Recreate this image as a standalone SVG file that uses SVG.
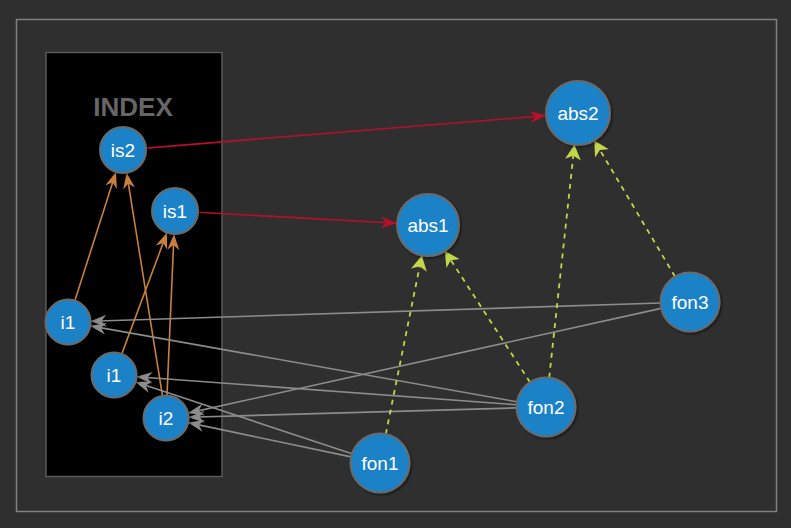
<svg xmlns="http://www.w3.org/2000/svg" width="791" height="528" viewBox="0 0 791 528">
<style>
.node circle{fill:#1a82c8;stroke:#6a6a6a;stroke-width:2}
.node text{fill:#fff;font-family:"Liberation Sans",Arial,sans-serif;font-size:19px;text-anchor:middle}
.red{stroke:#b8102a;stroke-width:1.6;fill:none;marker-end:url(#ar)}
.org{stroke:#c8803f;stroke-width:1.6;fill:none;marker-end:url(#ao)}
.gry{stroke:#8c8c8c;stroke-width:1.6;fill:none;marker-end:url(#ag)}
.grn{stroke:#c2d64a;stroke-width:1.8;fill:none;stroke-dasharray:5,5;marker-end:url(#an)}
</style>
<defs>
<marker id="ar" viewBox="0 0 16 12" refX="16" refY="6" markerWidth="16" markerHeight="12" markerUnits="userSpaceOnUse" orient="auto"><path d="M0,0 L16,6 L0,12 L5,6 z" fill="#b8102a"/></marker>
<marker id="ao" viewBox="0 0 16 12" refX="16" refY="6" markerWidth="16" markerHeight="12" markerUnits="userSpaceOnUse" orient="auto"><path d="M0,0 L16,6 L0,12 L5,6 z" fill="#c8803f"/></marker>
<marker id="ag" viewBox="0 0 16 12" refX="16" refY="6" markerWidth="16" markerHeight="12" markerUnits="userSpaceOnUse" orient="auto"><path d="M0,0 L16,6 L0,12 L5,6 z" fill="#8c8c8c"/></marker>
<marker id="an" viewBox="0 0 15 16" refX="15" refY="8" markerWidth="15" markerHeight="16" markerUnits="userSpaceOnUse" orient="auto"><path d="M0,0 L15,8 L0,16 L4,8 z" fill="#c2d64a"/></marker>
<filter id="sh" x="-20%" y="-20%" width="150%" height="150%"><feDropShadow dx="1.5" dy="1.5" stdDeviation="1.2" flood-color="#000" flood-opacity="0.5"/></filter>
</defs>
<rect x="0" y="0" width="791" height="528" fill="#2f2f2f"/>
<rect x="16.5" y="19.5" width="760" height="492" fill="none" stroke="#808080" stroke-width="1.5"/>
<g id="index-group">
<rect x="46" y="52.5" width="176" height="424" fill="#000" stroke="#5a5a5a" stroke-width="1.5"/>
<text x="133" y="116" font-family="'Liberation Sans',Arial,sans-serif" font-size="26" font-weight="bold" fill="#666" text-anchor="middle">INDEX</text>
</g>
<g id="connectors">
<line class="red" x1="145.9" y1="148.1" x2="546.1" y2="115.6"/>
<line class="red" x1="198" y1="212.3" x2="397" y2="223.3"/>
<line class="org" x1="74.9" y1="300.6" x2="116" y2="171.9"/>
<line class="org" x1="162.4" y1="395.3" x2="126.6" y2="172.7"/>
<line class="org" x1="121.8" y1="353.9" x2="167" y2="232.6"/>
<line class="org" x1="167" y1="395" x2="174" y2="234"/>
<line class="gry" x1="660.5" y1="303" x2="90.5" y2="321.3"/>
<line class="gry" x1="661.2" y1="308.4" x2="188" y2="413.1"/>
<line class="gry" x1="517" y1="401.8" x2="90.2" y2="325.9"/>
<line class="gry" x1="516.6" y1="404.8" x2="136.4" y2="376.7"/>
<line class="gry" x1="516.5" y1="407.9" x2="188.5" y2="417.3"/>
<line class="gry" x1="352" y1="453.7" x2="135.4" y2="382.1"/>
<line class="gry" x1="351.1" y1="456.9" x2="188" y2="422.6"/>
<line class="grn" x1="385.8" y1="434.1" x2="421.9" y2="255.4"/>
<line class="grn" x1="530" y1="382.2" x2="444.9" y2="251"/>
<line class="grn" x1="549.2" y1="377.7" x2="574.5" y2="144.8"/>
<line class="grn" x1="675" y1="276.6" x2="594.3" y2="140.5"/>
</g>
<g id="is2" class="node"><circle cx="123" cy="150" r="23" filter="url(#sh)"/><text x="123" y="157">is2</text></g>
<g id="is1" class="node"><circle cx="175" cy="211" r="23" filter="url(#sh)"/><text x="175" y="218">is1</text></g>
<g id="i1a" class="node"><circle cx="68" cy="322" r="22.5" filter="url(#sh)"/><text x="68" y="329">i1</text></g>
<g id="i1b" class="node"><circle cx="114" cy="375" r="22.5" filter="url(#sh)"/><text x="114" y="382">i1</text></g>
<g id="i2" class="node"><circle cx="166" cy="418" r="22.5" filter="url(#sh)"/><text x="166" y="425">i2</text></g>
<g id="abs1" class="node"><circle cx="428" cy="225" r="31" filter="url(#sh)"/><text x="428" y="232">abs1</text></g>
<g id="abs2" class="node"><circle cx="578" cy="113" r="32" filter="url(#sh)"/><text x="578" y="120">abs2</text></g>
<g id="fon1" class="node"><circle cx="380" cy="463" r="29.5" filter="url(#sh)"/><text x="380" y="470">fon1</text></g>
<g id="fon2" class="node"><circle cx="546" cy="407" r="29.5" filter="url(#sh)"/><text x="546" y="414">fon2</text></g>
<g id="fon3" class="node"><circle cx="690" cy="302" r="29.5" filter="url(#sh)"/><text x="690" y="309">fon3</text></g>
</svg>
